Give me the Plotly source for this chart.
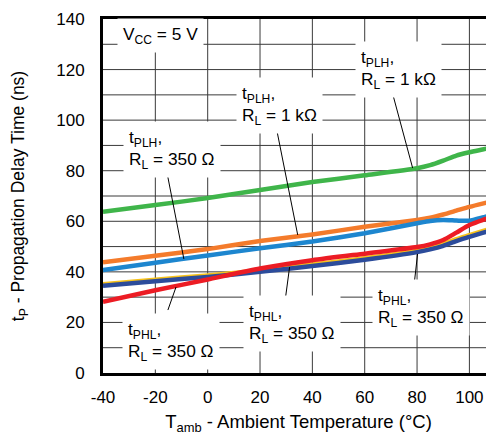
import plotly.graph_objects as go

# ── data ──
temp_c = [-40, -20, 0, 20, 40, 60, 80, 85, 90, 95, 100, 105, 110]

tplh_1k_green = [63.8, 66.4, 69.2, 72.4, 75.5, 78.2, 81.0, 82.2, 84.0, 86.0, 87.3, 88.4, 89.5]
tplh_350_orange = [43.8, 46.4, 49.0, 52.2, 54.8, 57.8, 60.5, 61.4, 62.7, 64.2, 65.7, 67.0, 68.2]
tplh_350_blue = [40.7, 43.6, 46.5, 49.3, 52.0, 55.3, 59.2, 60.1, 60.5, 60.3, 60.2, 61.5, 63.0]
tphl_yellow = [35.1, 36.9, 38.6, 40.6, 42.9, 45.4, 48.4, 49.5, 51.0, 52.9, 54.5, 56.1, 57.7]
tphl_350_navy = [34.5, 36.3, 38.0, 40.0, 42.3, 44.8, 47.8, 48.9, 50.3, 52.2, 53.8, 55.4, 57.0]
tphl_350_red = [28.2, 32.7, 37.0, 41.3, 44.6, 47.2, 49.8, 50.9, 52.6, 55.5, 58.5, 60.5, 62.0]

x_ticks = [-40, -20, 0, 20, 40, 60, 80, 100]
x_tick_text = ["-40", "-20", "0", "20", "40", "60", "80", "100"]
y_ticks = [0, 20, 40, 60, 80, 100, 120, 140]

# label text, anchor (left x, centre y) and leader line (from, to) in data units
labels = [
    ("V<sub>CC</sub> = 5 V", -34.7, 133.3, None),
    ("t<sub>PLH</sub>,<br>R<sub>L</sub> = 1 kΩ", 56.1, 120.2, (70.6, 110.7, 78.3, 81.1)),
    ("t<sub>PLH</sub>,<br>R<sub>L</sub> = 1 kΩ", 10.7, 105.6, (26.4, 96.1, 34.4, 54.6)),
    ("t<sub>PLH</sub>,<br>R<sub>L</sub> = 350 Ω", -32.4, 88.2, (-15.6, 79.5, -9.1, 45.1)),
    ("t<sub>PHL</sub>,<br>R<sub>L</sub> = 350 Ω", -32.8, 12.3, (-15.2, 24.9, -12.1, 34.0)),
    ("t<sub>PHL</sub>,<br>R<sub>L</sub> = 350 Ω", 13.4, 19.4, (29.7, 29.5, 31.3, 41.9)),
    ("t<sub>PHL</sub>,<br>R<sub>L</sub> = 350 Ω", 62.6, 26.1, (79.0, 36.1, 80.2, 47.1)),
]

FONT = "Liberation Sans, Arial, sans-serif"

fig = go.Figure()

series = [
    (tplh_1k_green, "#3fb54a"),
    (tplh_350_orange, "#f47b2b"),
    (tplh_350_blue, "#1d86cf"),
    (tphl_yellow, "#f7c21a"),
    (tphl_350_navy, "#2c4c9b"),
    (tphl_350_red, "#ec1c24"),
]
for ys, col in series:
    fig.add_trace(go.Scatter(
        x=temp_c, y=ys, mode="lines",
        line=dict(color=col, width=4.5, shape="spline", smoothing=0.6),
        showlegend=False, hoverinfo="skip",
    ))

# leader lines
for text, lx, ly, lead in labels:
    if lead:
        x0, y0, x1, y1 = lead
        fig.add_shape(type="line", x0=x0, y0=y0, x1=x1, y1=y1,
                      xref="x", yref="y", line=dict(color="black", width=1))

# label boxes (white, hide the grid behind)
for text, lx, ly, lead in labels:
    fig.add_annotation(
        x=lx, y=ly, xref="x", yref="y", text=text,
        xanchor="left", yanchor="middle", align="left", showarrow=False,
        bgcolor="white", borderpad=5,
        font=dict(family=FONT, size=17.3, color="black"),
    )

# page body adds an 8 px margin, so the figure is 8 px smaller each way
fig.update_layout(
    width=486, height=429,
    margin=dict(l=95, r=0, t=11, b=64),
    paper_bgcolor="white", plot_bgcolor="white",
    font=dict(family=FONT, color="black"),
    xaxis=dict(
        range=[-40, 109.4], tickvals=x_ticks, ticktext=x_tick_text, ticks="",
        showgrid=False, zeroline=False, automargin=False,
        showline=True, linecolor="black", linewidth=3, mirror=True,
        ticklabelstandoff=7,
        tickfont=dict(family=FONT, size=17, color="black"),
        title=dict(text="T<sub>amb</sub> - Ambient Temperature (°C)",
                   font=dict(family=FONT, size=18.5, color="black"), standoff=9),
    ),
    yaxis=dict(
        range=[0, 140], tickvals=y_ticks, ticks="",
        showgrid=False, zeroline=False, automargin=False,
        showline=True, linecolor="black", linewidth=3,
        ticklabelstandoff=12,
        tickfont=dict(family=FONT, size=17, color="black"),
        title=dict(text="t<sub>P</sub> - Propagation Delay Time (ns)",
                   font=dict(family=FONT, size=17.5, color="black"), standoff=35),
    ),
)

# grid: every 10 ns, every 20 °C, drawn below the traces
for g in range(10, 140, 10):
    fig.add_shape(type="line", xref="paper", yref="y", x0=0, x1=1, y0=g, y1=g,
                  line=dict(color="#3a3a3a", width=1), layer="below")
for g in range(-20, 110, 20):
    fig.add_shape(type="line", xref="x", yref="paper", x0=g, x1=g, y0=0, y1=1,
                  line=dict(color="#3a3a3a", width=1), layer="below")

fig.write_html("out.html")
